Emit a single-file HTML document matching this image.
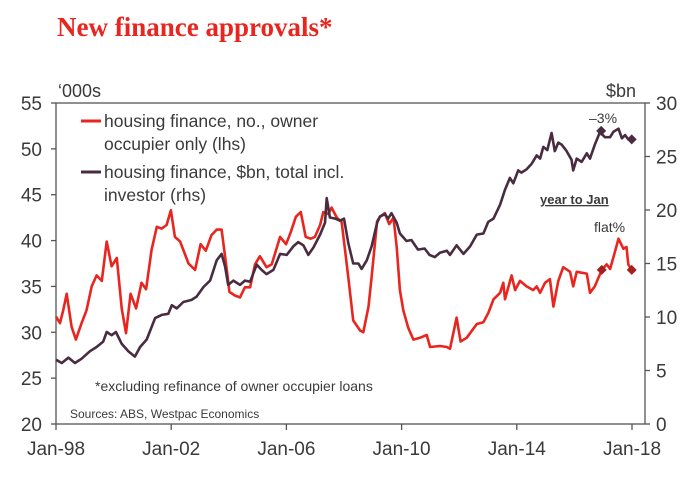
<!DOCTYPE html>
<html><head><meta charset="utf-8"><style>
body{margin:0;background:#fff;width:698px;height:491px;overflow:hidden}
svg text{font-family:"Liberation Sans",sans-serif;fill:#3a3a3a}
</style></head><body>
<svg id="chart" width="698" height="491">
<text x="57" y="36" style="font-family:'Liberation Serif',serif;font-weight:bold;font-size:27px;fill:#e8261f">New finance approvals*</text>
<text x="58" y="97" font-size="18">‘000s</text>
<text x="606" y="97" font-size="18">$bn</text>
<rect x="56" y="103" width="589" height="321" fill="none" stroke="#555" stroke-width="1.3"/>
<g id="axes"></g>
<g id="series"></g>
<line x1="81" y1="121" x2="101" y2="121" stroke="#e8261f" stroke-width="3"/>
<text x="104" y="127" font-size="17.5">housing finance, no., owner</text>
<text x="104" y="150" font-size="17.5">occupier only (lhs)</text>
<line x1="81" y1="172" x2="101" y2="172" stroke="#4a2c40" stroke-width="3"/>
<text x="104" y="178" font-size="17.5">housing finance, $bn, total incl.</text>
<text x="104" y="201" font-size="17.5">investor (rhs)</text>
<text x="589" y="123" font-size="14">–3%</text>
<text x="540" y="204" font-size="13" font-weight="bold" text-decoration="underline">year to Jan</text>
<text x="594" y="232" font-size="14">flat%</text>
<text x="95" y="391" font-size="14">*excluding refinance of owner occupier loans</text>
<text x="70" y="418" font-size="12">Sources: ABS, Westpac Economics</text>
</svg>
<script>
const redYears=[0,.14,.25,.37,.54,.69,.89,1.06,1.24,1.41,1.59,1.76,1.93,2.11,2.28,2.43,2.59,2.78,2.97,3.13,3.32,3.5,3.67,3.84,3.99,4.13,4.31,4.6,4.83,5.02,5.2,5.4,5.58,5.75,5.93,6.02,6.22,6.39,6.56,6.74,6.91,7.08,7.31,7.49,7.78,7.99,8.15,8.33,8.5,8.67,8.84,8.99,9.17,9.28,9.46,9.57,9.75,9.92,10.15,10.32,10.56,10.67,10.85,10.96,11.15,11.25,11.42,11.57,11.72,11.83,11.94,12.06,12.23,12.41,12.64,12.87,12.99,13.33,13.57,13.68,13.91,14.05,14.26,14.61,14.84,15.01,15.19,15.42,15.53,15.59,15.82,15.94,16.11,16.34,16.57,16.69,16.81,16.98,17.15,17.27,17.44,17.61,17.85,17.96,18.08,18.43,18.54,18.71,18.95,19.12,19.24,19.41,19.53,19.7,19.81,19.87,19.99];
const redValues=[31.7,31.0,32.4,34.2,30.6,29.2,31.0,32.4,35.0,36.2,35.6,39.9,37.2,38.1,32.6,29.9,34.2,32.6,35.4,34.7,39.0,41.5,41.3,41.7,43.3,40.4,39.9,37.5,36.8,39.6,38.9,40.6,41.2,41.2,36.8,34.4,34.0,33.8,34.9,34.9,37.4,38.3,37.1,37.4,40.4,39.6,40.9,42.6,43.1,40.4,40.2,40.4,41.7,43.1,42.9,43.6,42.5,42.0,36.0,31.3,30.2,30.0,32.8,36.0,42.1,42.6,43.0,41.8,42.5,39.3,34.6,32.4,30.5,29.2,29.4,29.7,28.4,28.5,28.4,28.2,31.6,29.0,29.4,30.9,31.1,32.1,33.6,34.3,35.4,33.6,36.2,34.6,35.6,35.0,34.6,35.0,34.3,35.4,35.8,32.8,35.6,37.1,36.6,35.0,36.6,36.4,34.3,35.0,36.8,37.4,36.9,38.8,40.2,39.1,39.3,37.4,36.8];
const purpleYears=[0,.2,.43,.66,.89,1.18,1.41,1.64,1.76,1.93,2.08,2.28,2.51,2.74,2.92,3.15,3.44,3.67,3.9,4.02,4.19,4.42,4.71,4.88,5.12,5.35,5.58,5.75,5.87,5.98,6.16,6.39,6.56,6.74,6.97,7.14,7.31,7.55,7.78,8.01,8.24,8.41,8.59,8.76,8.94,9.17,9.34,9.4,9.51,9.69,9.86,10.0,10.15,10.32,10.5,10.61,10.79,10.96,11.15,11.25,11.42,11.53,11.65,11.83,11.94,12.17,12.34,12.57,12.8,12.97,13.15,13.33,13.57,13.68,13.91,14.15,14.38,14.61,14.84,15.01,15.19,15.42,15.59,15.76,15.88,16.05,16.16,16.34,16.51,16.69,16.81,16.92,17.06,17.21,17.32,17.44,17.56,17.73,17.9,17.96,18.08,18.25,18.43,18.54,18.71,18.89,19.06,19.24,19.35,19.53,19.65,19.76,19.87,19.99];
const purpleValues=[6.0,5.7,6.2,5.7,6.1,6.8,7.2,7.7,8.6,8.3,8.6,7.5,6.8,6.3,7.2,7.9,9.9,10.2,10.3,11.1,10.8,11.4,11.6,11.9,12.8,13.4,15.3,15.9,14.7,13.0,13.4,13.0,13.4,13.3,14.9,14.4,14.0,14.4,15.9,15.8,16.6,17.0,16.7,15.8,16.5,17.7,18.8,21.1,19.3,19.2,19.0,19.2,16.9,15.0,15.0,14.5,15.3,16.6,18.8,19.4,19.6,19.2,19.7,18.8,17.8,17.1,17.2,16.3,16.4,15.8,15.6,16.0,16.2,15.8,16.7,15.9,16.6,17.7,17.8,18.9,19.2,20.5,21.9,23.0,22.5,23.7,23.5,23.8,24.3,25.1,24.8,25.9,25.6,27.2,25.5,26.3,26.1,25.5,24.7,23.7,24.8,24.5,25.3,24.8,26.1,27.3,26.8,26.8,27.3,27.6,26.7,27.0,26.6,26.6];
const redMarkers=[[18.95,36.8],[19.99,36.8]];
const purpleMarkers=[[18.93,27.4],[19.99,26.6]];
const leftTicks=[20,25,30,35,40,45,50,55];
const rightTicks=[0,5,10,15,20,25,30];
const xTickYears=[0,4,8,12,16,20];
const xTickLabels=["Jan-98","Jan-02","Jan-06","Jan-10","Jan-14","Jan-18"];

const NS="http://www.w3.org/2000/svg";
const X=t=>56+t*28.8;
const YL=v=>103+(55-v)*321/35;
const YR=v=>424-v*321/30;
function mk(tag,attrs,parent){const e=document.createElementNS(NS,tag);for(const k in attrs)e.setAttribute(k,attrs[k]);parent.appendChild(e);return e;}
const axes=document.getElementById('axes'),series=document.getElementById('series');
leftTicks.forEach(v=>{
  const l=mk('line',{x1:51,x2:56,y1:YL(v),y2:YL(v),stroke:'#555','stroke-width':1.3},axes);
  
  
  const t=mk('text',{x:42,y:YL(v)+7,'text-anchor':'end','font-size':19},axes);t.textContent=v;
  
  
});
rightTicks.forEach(v=>{
  const l=mk('line',{x1:645,x2:650,y1:YR(v),y2:YR(v),stroke:'#555','stroke-width':1.3},axes);
  
  
  const t=mk('text',{x:656,y:YR(v)+7,'font-size':19},axes);t.textContent=v;
  
  
});
xTickYears.forEach((y,i)=>{
  const l=mk('line',{x1:X(y),x2:X(y),y1:424,y2:430,stroke:'#555','stroke-width':1.3},axes);
  
  
  const t=mk('text',{x:X(y),y:455,'text-anchor':'middle','font-size':19},axes);t.textContent=xTickLabels[i];
  
  
});
function line(xs,vs,yf,color,name){
  const d=xs.map((t,i)=>(i?'L':'M')+X(t).toFixed(1)+','+yf(vs[i]).toFixed(1)).join('');
  const p=mk('path',{d:d,fill:'none',stroke:color,'stroke-width':2.6,'stroke-linejoin':'round'},series);
  
  
}
line(redYears,redValues,YL,'#e8261f','owner-occupier-line');
line(purpleYears,purpleValues,YR,'#4a2c40','total-finance-line');
function diamond(t,v,yf,color,name){
  const x=X(t),y=yf(v),s=5;
  const p=mk('polygon',{points:`${x},${y-s} ${x+s},${y} ${x},${y+s} ${x-s},${y}`,fill:color},series);
  
  
}
redMarkers.forEach(m=>diamond(m[0],m[1],YL,'#a3201c','red-marker'));
purpleMarkers.forEach(m=>diamond(m[0],m[1],YR,'#4a2c40','purple-marker'));
</script>
</body></html>
